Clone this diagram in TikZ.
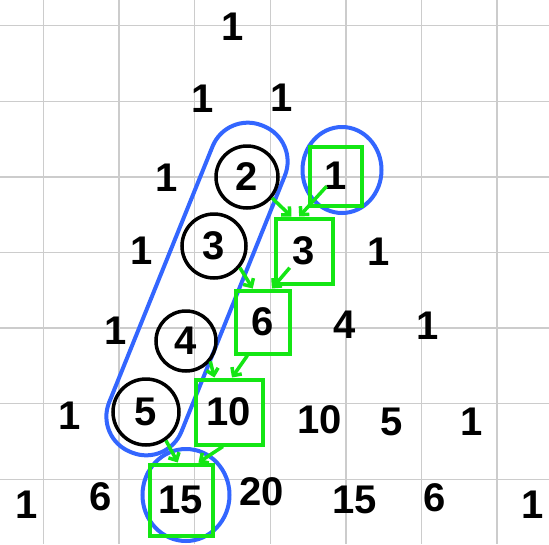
\documentclass[tikz,border=0pt]{standalone}
\usepackage{fontspec}
\setmainfont{Liberation Sans}
\usetikzlibrary{arrows.meta,shapes.geometric}
\definecolor{gridgray}{HTML}{CCCCCC}
\definecolor{penblue}{HTML}{3366FF}
\definecolor{pengreen}{HTML}{14E614}
\tikzset{
  num/.style={inner sep=0pt,font=\fontsize{40}{40}\selectfont\bfseries},
  circled/.style={num,circle,draw=black,line width=3.5pt},
  boxed/.style={num,rectangle,draw=pengreen,line width=4pt},
  hull/.style={draw=penblue,line width=4pt,inner sep=0pt},
  ar/.style={-{Straight Barb[length=6pt,width=12pt]},draw=pengreen,line width=3.5pt},
}
\begin{document}
\begin{tikzpicture}[x=1pt,y=-1pt]
  \fill[white] (0,0) rectangle (549,544);
  \useasboundingbox (0,0) rectangle (549,544);
  \foreach \k in {0,...,6}{
    \draw[gridgray,line width=1.5pt] ({43.5+75.6*\k},0) -- ({43.5+75.6*\k},544);
    \draw[gridgray,line width=1.5pt] (0,{25.7+75.6*\k}) -- (549,{25.7+75.6*\k});}
  \node[hull,rounded corners=38pt,minimum width=352pt,minimum height=78pt,rotate=68] (h1) at (197,289) {};
  \node[hull,ellipse,minimum width=79pt,minimum height=86pt] (e1) at (342,170) {};
  \node[hull,ellipse,minimum width=87pt,minimum height=92pt] (e2) at (186,495) {};
  \foreach \n/\x/\y/\t in {r0a/233/27/1,r1a/203/99/1,r1b/282/98/1,r2a/167/178/1,r3a/142/251/1,r3d/379/252/1,
    r4a/116/331/1,r4d/345/325/4,r4e/428/326/1,r5a/70/416/1,r5d/320/420/10,r5e/392/422/5,r5f/472/422/1,
    r6a/27/505/1,r6b/101/497/6,r6d/262/492/20,r6e/355/500/15,r6f/435/498/6,r6g/533/505/1}{
    \node[num] (\n) at (\x,\y) {\t};}
  \node[circled,minimum size=62pt] (c2) at (247,177) {2};
  \node[circled,minimum size=64pt] (c3) at (214,246) {3};
  \node[circled,minimum size=60pt] (c4) at (186,341) {4};
  \node[circled,minimum size=66pt] (c5) at (146,412) {5};
  \node[boxed,minimum width=52pt,minimum height=59pt] (b1) at (336,176) {1};
  \node[boxed,minimum width=57pt,minimum height=65pt] (b3) at (304,251) {3};
  \node[boxed,minimum width=54pt,minimum height=63pt] (b6) at (263,322) {6};
  \node[boxed,minimum width=67pt,minimum height=65pt] (b10) at (229,412) {10};
  \node[boxed,minimum width=63pt,minimum height=71pt] (b15) at (181,500) {15};
  \draw[ar] (c2.-40) -- (b3.110);
  \draw[ar,shorten <=14pt] (b1.center) -- (b3.98);
  \draw[ar] (c3.-40) -- (b6.107);
  \draw[ar,shorten <=22pt] (b3.center) -- (b6.75);
  \draw[ar] (c4.-40) -- (b10.113);
  \draw[ar] (b6.-115) -- (b10.85);
  \draw[ar] (c5.-55) -- (b15.95);
  \draw[ar] (b10.-100) -- (b15.65);
\end{tikzpicture}
\end{document}
